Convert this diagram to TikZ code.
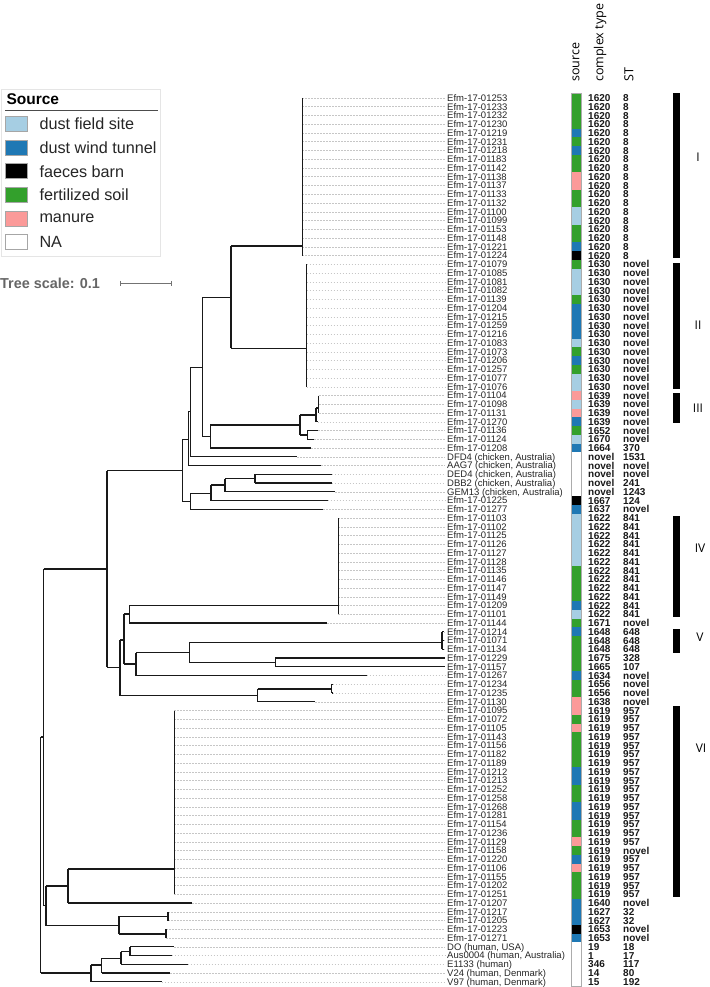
\documentclass[tikz,border=0pt]{standalone}
\usepackage{fontspec}
\setmainfont{Liberation Sans}
\newfontfamily\hdrfont{Open Sans}
\definecolor{cLB}{HTML}{A6CEE3}
\definecolor{cDB}{HTML}{1F78B4}
\definecolor{cBK}{HTML}{000000}
\definecolor{cGR}{HTML}{33A02C}
\definecolor{cPK}{HTML}{FB9A99}
\definecolor{cNA}{HTML}{FFFFFF}
\newcommand\leafrow[6]{%
  \pgfmathsetmacro\yy{98+(#1-1)*8.75}%
  \draw[dotl] (#2,\yy) -- (445,\yy);
  \node[lab] (n#1) at (447,\yy+3.3) {#3};
  \fill[#4] (571,\yy-4.375) rectangle (581,\yy+4.375);
  \node[ctype] (c#1) at (588,\yy+3.6) {#5};
  \node[stt] (s#1) at (623,\yy+3.6) {#6};
}
\newcommand\vl[3]{\draw[tree] (#1,#2) -- (#1,#3);}
\newcommand\hl[3]{\draw[tree] (#1,#3) -- (#2,#3);}
\begin{document}
\begin{tikzpicture}[x=1pt,y=-1pt,
  tree/.style={line width=1.2pt, black!90},
  dotl/.style={gray!45, line width=0.5pt, dash pattern=on 1.5pt off 1.5pt},
  lab/.style={anchor=base west, inner sep=0pt, font=\fontsize{9.5}{9.5}\selectfont, text=black!85},
  ctype/.style={anchor=base west, inner sep=0pt, font=\bfseries\fontsize{10}{10}\selectfont, text=black!90},
  stt/.style={anchor=base west, inner sep=0pt, font=\bfseries\fontsize{10}{10}\selectfont, text=black!90},
  hdr/.style={rotate=90, anchor=west, inner sep=0pt, font=\hdrfont\fontsize{12.5}{12.5}\selectfont},
  clade/.style={anchor=center, inner sep=0pt, font=\hdrfont\fontsize{12}{12}\selectfont},
  sw/.style={draw=gray!70, line width=0.6pt},
  legtxt/.style={anchor=west, inner sep=0pt, font=\fontsize{16.2}{16.2}\selectfont, text=black!85}]
\useasboundingbox (0,0) rectangle (709,987);
\fill[white] (0,0) rectangle (709,987);

% headers
\node[hdr] (hsrc) at (576,82) {source};
\node[hdr] (hct) at (600,82) {complex type};
\node[hdr] (hst) at (629,82) {ST};

% legend
\draw[black!10, line width=0.6pt] (1,89.3) rectangle (160.7,256.7);
\node[anchor=base west, inner sep=0pt, font=\bfseries\fontsize{15.5}{15.5}\selectfont] (legtitle) at (6.3,105) {Source};
\draw[black!70, line width=0.7pt] (5,110.7) -- (157.5,110.7);
\foreach \c/\t [count=\k from 0] in {cLB/dust field site,cDB/dust wind tunnel,cBK/faeces barn,cGR/fertilized soil,cPK/manure,cNA/NA}{
  \pgfmathsetmacro\ly{124+\k*23.65}
  \filldraw[sw, fill=\c] (5.7,\ly-7.5) rectangle (27.7,\ly+7.5);
  \node[legtxt] (leg\k) at (39.3,\ly) {\t};
}
% tree scale
\node[anchor=west, inner sep=0pt, font=\bfseries\fontsize{14.4}{14.4}\selectfont, text=black!60] (tscale) at (0,283.3) {Tree scale: 0.1};
\draw[black!55, line width=0.8pt] (120.7,283.3) -- (171,283.3);
\draw[black!55, line width=0.8pt] (120.7,280.8) -- (120.7,285.8);
\draw[black!55, line width=0.8pt] (171,280.8) -- (171,285.8);

% leaves
\leafrow{1}{302.3}{Efm-17-01253}{cGR}{1620}{8}
\leafrow{2}{302.3}{Efm-17-01233}{cGR}{1620}{8}
\leafrow{3}{302.3}{Efm-17-01232}{cGR}{1620}{8}
\leafrow{4}{302.3}{Efm-17-01230}{cGR}{1620}{8}
\leafrow{5}{302.3}{Efm-17-01219}{cDB}{1620}{8}
\leafrow{6}{302.3}{Efm-17-01231}{cGR}{1620}{8}
\leafrow{7}{302.3}{Efm-17-01218}{cDB}{1620}{8}
\leafrow{8}{302.3}{Efm-17-01183}{cGR}{1620}{8}
\leafrow{9}{302.3}{Efm-17-01142}{cGR}{1620}{8}
\leafrow{10}{302.3}{Efm-17-01138}{cPK}{1620}{8}
\leafrow{11}{302.3}{Efm-17-01137}{cPK}{1620}{8}
\leafrow{12}{302.3}{Efm-17-01133}{cGR}{1620}{8}
\leafrow{13}{302.3}{Efm-17-01132}{cGR}{1620}{8}
\leafrow{14}{302.3}{Efm-17-01100}{cLB}{1620}{8}
\leafrow{15}{302.3}{Efm-17-01099}{cLB}{1620}{8}
\leafrow{16}{302.3}{Efm-17-01153}{cGR}{1620}{8}
\leafrow{17}{302.3}{Efm-17-01148}{cGR}{1620}{8}
\leafrow{18}{302.3}{Efm-17-01221}{cDB}{1620}{8}
\leafrow{19}{302.3}{Efm-17-01224}{cBK}{1620}{8}
\leafrow{20}{306.7}{Efm-17-01079}{cGR}{1630}{novel}
\leafrow{21}{306.7}{Efm-17-01085}{cLB}{1630}{novel}
\leafrow{22}{306.7}{Efm-17-01081}{cLB}{1630}{novel}
\leafrow{23}{306.7}{Efm-17-01082}{cLB}{1630}{novel}
\leafrow{24}{306.7}{Efm-17-01139}{cGR}{1630}{novel}
\leafrow{25}{306.7}{Efm-17-01204}{cDB}{1630}{novel}
\leafrow{26}{306.7}{Efm-17-01215}{cDB}{1630}{novel}
\leafrow{27}{306.7}{Efm-17-01259}{cDB}{1630}{novel}
\leafrow{28}{306.7}{Efm-17-01216}{cDB}{1630}{novel}
\leafrow{29}{306.7}{Efm-17-01083}{cLB}{1630}{novel}
\leafrow{30}{306.7}{Efm-17-01073}{cGR}{1630}{novel}
\leafrow{31}{306.7}{Efm-17-01206}{cDB}{1630}{novel}
\leafrow{32}{306.7}{Efm-17-01257}{cGR}{1630}{novel}
\leafrow{33}{306.7}{Efm-17-01077}{cLB}{1630}{novel}
\leafrow{34}{306.7}{Efm-17-01076}{cLB}{1630}{novel}
\leafrow{35}{319}{Efm-17-01104}{cPK}{1639}{novel}
\leafrow{36}{319}{Efm-17-01098}{cLB}{1639}{novel}
\leafrow{37}{319}{Efm-17-01131}{cPK}{1639}{novel}
\leafrow{38}{317.7}{Efm-17-01270}{cDB}{1639}{novel}
\leafrow{39}{318.3}{Efm-17-01136}{cGR}{1652}{novel}
\leafrow{40}{314.3}{Efm-17-01124}{cLB}{1670}{novel}
\leafrow{41}{311}{Efm-17-01208}{cDB}{1664}{370}
\leafrow{42}{297}{DFD4 (chicken, Australia)}{cNA}{novel}{1531}
\leafrow{43}{321}{AAG7 (chicken, Australia)}{cNA}{novel}{novel}
\leafrow{44}{331.7}{DED4 (chicken, Australia)}{cNA}{novel}{novel}
\leafrow{45}{331.7}{DBB2 (chicken, Australia)}{cNA}{novel}{241}
\leafrow{46}{335}{GEM13 (chicken, Australia)}{cNA}{novel}{1243}
\leafrow{47}{327.7}{Efm-17-01225}{cBK}{1667}{124}
\leafrow{48}{323.3}{Efm-17-01277}{cDB}{1637}{novel}
\leafrow{49}{338.3}{Efm-17-01103}{cLB}{1622}{841}
\leafrow{50}{338.3}{Efm-17-01102}{cLB}{1622}{841}
\leafrow{51}{338.3}{Efm-17-01125}{cLB}{1622}{841}
\leafrow{52}{338.3}{Efm-17-01126}{cLB}{1622}{841}
\leafrow{53}{338.3}{Efm-17-01127}{cLB}{1622}{841}
\leafrow{54}{338.3}{Efm-17-01128}{cLB}{1622}{841}
\leafrow{55}{338.3}{Efm-17-01135}{cGR}{1622}{841}
\leafrow{56}{338.3}{Efm-17-01146}{cGR}{1622}{841}
\leafrow{57}{338.3}{Efm-17-01147}{cGR}{1622}{841}
\leafrow{58}{338.3}{Efm-17-01149}{cGR}{1622}{841}
\leafrow{59}{338.3}{Efm-17-01209}{cDB}{1622}{841}
\leafrow{60}{338.3}{Efm-17-01101}{cLB}{1622}{841}
\leafrow{61}{327}{Efm-17-01144}{cGR}{1671}{novel}
\leafrow{62}{444}{Efm-17-01214}{cDB}{1648}{648}
\leafrow{63}{444}{Efm-17-01071}{cGR}{1648}{648}
\leafrow{64}{444}{Efm-17-01134}{cGR}{1648}{648}
\leafrow{65}{445}{Efm-17-01229}{cGR}{1675}{328}
\leafrow{66}{445}{Efm-17-01157}{cGR}{1665}{107}
\leafrow{67}{366.7}{Efm-17-01267}{cDB}{1634}{novel}
\leafrow{68}{332.5}{Efm-17-01234}{cGR}{1656}{novel}
\leafrow{69}{332.5}{Efm-17-01235}{cGR}{1656}{novel}
\leafrow{70}{315}{Efm-17-01130}{cPK}{1638}{novel}
\leafrow{71}{174.3}{Efm-17-01095}{cPK}{1619}{957}
\leafrow{72}{174.3}{Efm-17-01072}{cGR}{1619}{957}
\leafrow{73}{174.3}{Efm-17-01105}{cPK}{1619}{957}
\leafrow{74}{174.3}{Efm-17-01143}{cGR}{1619}{957}
\leafrow{75}{174.3}{Efm-17-01156}{cGR}{1619}{957}
\leafrow{76}{174.3}{Efm-17-01182}{cGR}{1619}{957}
\leafrow{77}{174.3}{Efm-17-01189}{cGR}{1619}{957}
\leafrow{78}{174.3}{Efm-17-01212}{cDB}{1619}{957}
\leafrow{79}{174.3}{Efm-17-01213}{cDB}{1619}{957}
\leafrow{80}{174.3}{Efm-17-01252}{cGR}{1619}{957}
\leafrow{81}{174.3}{Efm-17-01258}{cGR}{1619}{957}
\leafrow{82}{174.3}{Efm-17-01268}{cDB}{1619}{957}
\leafrow{83}{174.3}{Efm-17-01281}{cDB}{1619}{957}
\leafrow{84}{174.3}{Efm-17-01154}{cGR}{1619}{957}
\leafrow{85}{174.3}{Efm-17-01236}{cGR}{1619}{957}
\leafrow{86}{174.3}{Efm-17-01129}{cPK}{1619}{957}
\leafrow{87}{174.3}{Efm-17-01158}{cGR}{1619}{novel}
\leafrow{88}{174.3}{Efm-17-01220}{cDB}{1619}{957}
\leafrow{89}{174.3}{Efm-17-01106}{cPK}{1619}{957}
\leafrow{90}{174.3}{Efm-17-01155}{cGR}{1619}{957}
\leafrow{91}{174.3}{Efm-17-01202}{cGR}{1619}{957}
\leafrow{92}{174.3}{Efm-17-01251}{cGR}{1619}{957}
\leafrow{93}{192}{Efm-17-01207}{cDB}{1640}{novel}
\leafrow{94}{168}{Efm-17-01217}{cDB}{1627}{32}
\leafrow{95}{168}{Efm-17-01205}{cDB}{1627}{32}
\leafrow{96}{166}{Efm-17-01223}{cBK}{1653}{novel}
\leafrow{97}{166}{Efm-17-01271}{cDB}{1653}{novel}
\leafrow{98}{174}{DO (human, USA)}{cNA}{19}{18}
\leafrow{99}{171.7}{Aus0004 (human, Australia)}{cNA}{1}{17}
\leafrow{100}{187.7}{E1133 (human)}{cNA}{346}{117}
\leafrow{101}{170}{V24 (human, Denmark)}{cNA}{14}{80}
\leafrow{102}{161.7}{V97 (human, Denmark)}{cNA}{15}{192}

% source column outline
\draw[gray!65, line width=0.6pt] (571,93.6) rectangle (581,986.1);

% clade bars
\fill[black] (673,93.3) rectangle (680,258.3);
\fill[black] (673,262.7) rectangle (680,389);
\fill[black] (673,393.3) rectangle (680,423.3);
\fill[black] (673,516) rectangle (680,616.7);
\fill[black] (673,629.3) rectangle (680,652.7);
\fill[black] (673,706) rectangle (680,897);
\node[clade] (cl1) at (698,157) {I};
\node[clade] (cl2) at (698,325) {II};
\node[clade] (cl3) at (698,408) {III};
\node[clade] (cl4) at (700,548) {IV};
\node[clade] (cl5) at (700,637) {V};
\node[clade] (cl6) at (701,748) {VI};

% tree
\vl{40.7}{737}{973}\hl{40.7}{43.5}{737}\hl{40.7}{91}{973}
\vl{43.5}{569}{905.7}\hl{43.5}{107}{569}\hl{43.5}{46}{905.7}
\vl{46}{886}{925.7}\hl{46}{68}{886}\hl{46}{119}{925.7}
\vl{68}{869}{903}\hl{68}{174.3}{869}\hl{68}{192}{903}
\vl{174.3}{710.5}{894.25}
\vl{119}{916.3}{934}\hl{119}{168}{916.3}\hl{119}{166}{934}
\vl{168}{911.75}{920.5}
\vl{166}{929.25}{938}
\vl{91}{965}{981.75}\hl{91}{101.7}{965}\hl{91}{161.7}{981.75}
\vl{101.7}{958.3}{973}\hl{101.7}{121}{958.3}\hl{101.7}{170}{973}
\vl{121}{951.7}{964.25}\hl{121}{130}{951.7}\hl{121}{187.7}{964.25}
\vl{130}{946.75}{955.5}\hl{130}{174}{946.75}\hl{130}{171.7}{955.5}
\vl{107}{470.7}{667.3}\hl{107}{182.3}{470.7}\hl{107}{120}{667.3}
\vl{182.3}{439.3}{501.7}\hl{182.3}{188.3}{439.3}\hl{182.3}{190.3}{501.7}
\vl{188.3}{411.7}{465.5}\hl{188.3}{190.7}{411.7}\hl{188.3}{321}{465.5}
\vl{190.7}{367.3}{456.75}\hl{190.7}{202.3}{367.3}\hl{190.7}{297}{456.75}
\vl{202.3}{297.3}{436.7}\hl{202.3}{231}{297.3}\hl{202.3}{210.3}{436.7}
\vl{231}{246}{348.3}\hl{231}{302.3}{246}\hl{231}{306.7}{348.3}
\vl{302.3}{98}{255.5}
\vl{306.7}{264.25}{386.75}
\vl{210.3}{425}{448}\hl{210.3}{300}{425}\hl{210.3}{311}{448}
\vl{300}{415}{435}\hl{300}{316}{415}\hl{300}{307.3}{435}
\vl{316}{408}{421.75}\hl{316}{318.7}{408}\hl{316}{317.7}{421.75}
\vl{318.7}{395.5}{413}
\vl{307.3}{430.5}{439.25}\hl{307.3}{318.3}{430.5}\hl{307.3}{314.3}{439.25}
\vl{190.3}{493.3}{509.25}\hl{190.3}{211}{493.3}\hl{190.3}{323.3}{509.25}
\vl{211}{485}{500.5}\hl{211}{225}{485}\hl{211}{327.7}{500.5}
\vl{225}{478.7}{491.75}\hl{225}{255}{478.7}\hl{225}{335}{491.75}
\vl{255}{474.25}{483}\hl{255}{331.7}{474.25}\hl{255}{331.7}{483}
\vl{120}{640}{695.7}\hl{120}{124}{640}\hl{120}{257.7}{695.7}
\vl{124}{614}{664}\hl{124}{129.3}{614}\hl{124}{136}{664}
\vl{129.3}{605.7}{623}\hl{129.3}{338.3}{605.7}\hl{129.3}{327}{623}
\vl{338.3}{518}{614.25}
\vl{136}{652.7}{675.5}\hl{136}{189.3}{652.7}\hl{136}{366.7}{675.5}
\vl{189.3}{642.7}{662.7}\hl{189.3}{442}{642.7}\hl{189.3}{275.3}{662.7}
\vl{442}{631.75}{649.25}\hl{442}{444}{631.75}\hl{442}{444}{640.5}\hl{442}{444}{649.25}
\vl{275.3}{658}{666.75}\hl{275.3}{445}{658}\hl{275.3}{445}{666.75}
\vl{257.7}{689}{701.75}\hl{257.7}{331.7}{689}\hl{257.7}{315}{701.75}
\vl{331.7}{684.25}{693}\hl{331.7}{332.5}{684.25}\hl{331.7}{332.5}{693}
\end{tikzpicture}
\end{document}
